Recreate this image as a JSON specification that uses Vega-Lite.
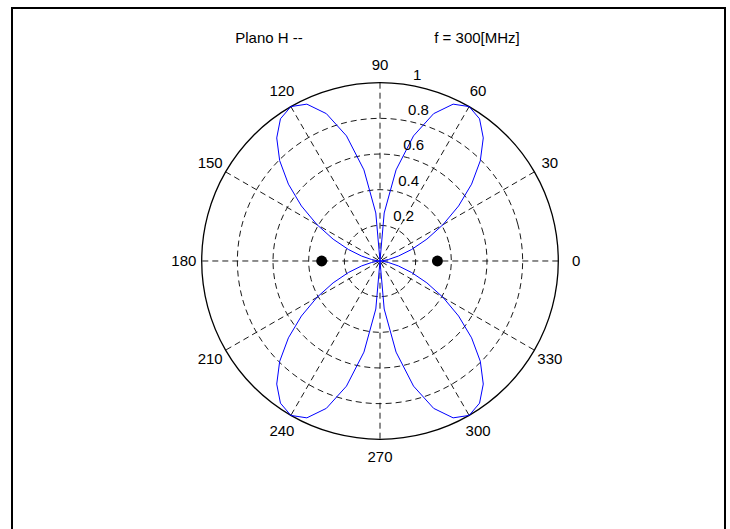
{
  "$schema": "https://vega.github.io/schema/vega-lite/v6.json",
  "width": 730,
  "height": 529,
  "autosize": {"type": "none"},
  "padding": 0,
  "background": "white",
  "config": {"view": {"stroke": null}, "text": {"font": "Liberation Sans", "fontSize": 15, "color": "#000"}},
  "datasets": {
    "frame": [{"x": -2.06394, "x2": 1.93494, "y": 1.41896, "y2": -1.7}],
    "rings": [
      {"r": 0.2, "k": 0, "x": 0.2, "y": 0}, {"r": 0.2, "k": 1, "x": 0.19319, "y": 0.05176}, {"r": 0.2, "k": 2, "x": 0.17321, "y": 0.1}, {"r": 0.2, "k": 3, "x": 0.14142, "y": 0.14142}, {"r": 0.2, "k": 4, "x": 0.1, "y": 0.17321}, {"r": 0.2, "k": 5, "x": 0.05176, "y": 0.19319}, {"r": 0.2, "k": 6, "x": 0, "y": 0.2}, {"r": 0.2, "k": 7, "x": -0.05176, "y": 0.19319}, {"r": 0.2, "k": 8, "x": -0.1, "y": 0.17321}, {"r": 0.2, "k": 9, "x": -0.14142, "y": 0.14142}, {"r": 0.2, "k": 10, "x": -0.17321, "y": 0.1}, {"r": 0.2, "k": 11, "x": -0.19319, "y": 0.05176}, {"r": 0.2, "k": 12, "x": -0.2, "y": 0}, {"r": 0.2, "k": 13, "x": -0.19319, "y": -0.05176}, {"r": 0.2, "k": 14, "x": -0.17321, "y": -0.1}, {"r": 0.2, "k": 15, "x": -0.14142, "y": -0.14142}, {"r": 0.2, "k": 16, "x": -0.1, "y": -0.17321}, {"r": 0.2, "k": 17, "x": -0.05176, "y": -0.19319}, {"r": 0.2, "k": 18, "x": 0, "y": -0.2}, {"r": 0.2, "k": 19, "x": 0.05176, "y": -0.19319}, {"r": 0.2, "k": 20, "x": 0.1, "y": -0.17321}, {"r": 0.2, "k": 21, "x": 0.14142, "y": -0.14142}, {"r": 0.2, "k": 22, "x": 0.17321, "y": -0.1}, {"r": 0.2, "k": 23, "x": 0.19319, "y": -0.05176},
      {"r": 0.4, "k": 0, "x": 0.4, "y": 0}, {"r": 0.4, "k": 1, "x": 0.38637, "y": 0.10353}, {"r": 0.4, "k": 2, "x": 0.34641, "y": 0.2}, {"r": 0.4, "k": 3, "x": 0.28284, "y": 0.28284}, {"r": 0.4, "k": 4, "x": 0.2, "y": 0.34641}, {"r": 0.4, "k": 5, "x": 0.10353, "y": 0.38637}, {"r": 0.4, "k": 6, "x": 0, "y": 0.4}, {"r": 0.4, "k": 7, "x": -0.10353, "y": 0.38637}, {"r": 0.4, "k": 8, "x": -0.2, "y": 0.34641}, {"r": 0.4, "k": 9, "x": -0.28284, "y": 0.28284}, {"r": 0.4, "k": 10, "x": -0.34641, "y": 0.2}, {"r": 0.4, "k": 11, "x": -0.38637, "y": 0.10353}, {"r": 0.4, "k": 12, "x": -0.4, "y": 0}, {"r": 0.4, "k": 13, "x": -0.38637, "y": -0.10353}, {"r": 0.4, "k": 14, "x": -0.34641, "y": -0.2}, {"r": 0.4, "k": 15, "x": -0.28284, "y": -0.28284}, {"r": 0.4, "k": 16, "x": -0.2, "y": -0.34641}, {"r": 0.4, "k": 17, "x": -0.10353, "y": -0.38637}, {"r": 0.4, "k": 18, "x": 0, "y": -0.4}, {"r": 0.4, "k": 19, "x": 0.10353, "y": -0.38637}, {"r": 0.4, "k": 20, "x": 0.2, "y": -0.34641}, {"r": 0.4, "k": 21, "x": 0.28284, "y": -0.28284}, {"r": 0.4, "k": 22, "x": 0.34641, "y": -0.2}, {"r": 0.4, "k": 23, "x": 0.38637, "y": -0.10353},
      {"r": 0.6, "k": 0, "x": 0.6, "y": 0}, {"r": 0.6, "k": 1, "x": 0.57956, "y": 0.15529}, {"r": 0.6, "k": 2, "x": 0.51962, "y": 0.3}, {"r": 0.6, "k": 3, "x": 0.42426, "y": 0.42426}, {"r": 0.6, "k": 4, "x": 0.3, "y": 0.51962}, {"r": 0.6, "k": 5, "x": 0.15529, "y": 0.57956}, {"r": 0.6, "k": 6, "x": 0, "y": 0.6}, {"r": 0.6, "k": 7, "x": -0.15529, "y": 0.57956}, {"r": 0.6, "k": 8, "x": -0.3, "y": 0.51962}, {"r": 0.6, "k": 9, "x": -0.42426, "y": 0.42426}, {"r": 0.6, "k": 10, "x": -0.51962, "y": 0.3}, {"r": 0.6, "k": 11, "x": -0.57956, "y": 0.15529}, {"r": 0.6, "k": 12, "x": -0.6, "y": 0}, {"r": 0.6, "k": 13, "x": -0.57956, "y": -0.15529}, {"r": 0.6, "k": 14, "x": -0.51962, "y": -0.3}, {"r": 0.6, "k": 15, "x": -0.42426, "y": -0.42426}, {"r": 0.6, "k": 16, "x": -0.3, "y": -0.51962}, {"r": 0.6, "k": 17, "x": -0.15529, "y": -0.57956}, {"r": 0.6, "k": 18, "x": 0, "y": -0.6}, {"r": 0.6, "k": 19, "x": 0.15529, "y": -0.57956}, {"r": 0.6, "k": 20, "x": 0.3, "y": -0.51962}, {"r": 0.6, "k": 21, "x": 0.42426, "y": -0.42426}, {"r": 0.6, "k": 22, "x": 0.51962, "y": -0.3}, {"r": 0.6, "k": 23, "x": 0.57956, "y": -0.15529},
      {"r": 0.8, "k": 0, "x": 0.8, "y": 0}, {"r": 0.8, "k": 1, "x": 0.77274, "y": 0.20706}, {"r": 0.8, "k": 2, "x": 0.69282, "y": 0.4}, {"r": 0.8, "k": 3, "x": 0.56569, "y": 0.56569}, {"r": 0.8, "k": 4, "x": 0.4, "y": 0.69282}, {"r": 0.8, "k": 5, "x": 0.20706, "y": 0.77274}, {"r": 0.8, "k": 6, "x": 0, "y": 0.8}, {"r": 0.8, "k": 7, "x": -0.20706, "y": 0.77274}, {"r": 0.8, "k": 8, "x": -0.4, "y": 0.69282}, {"r": 0.8, "k": 9, "x": -0.56569, "y": 0.56569}, {"r": 0.8, "k": 10, "x": -0.69282, "y": 0.4}, {"r": 0.8, "k": 11, "x": -0.77274, "y": 0.20706}, {"r": 0.8, "k": 12, "x": -0.8, "y": 0}, {"r": 0.8, "k": 13, "x": -0.77274, "y": -0.20706}, {"r": 0.8, "k": 14, "x": -0.69282, "y": -0.4}, {"r": 0.8, "k": 15, "x": -0.56569, "y": -0.56569}, {"r": 0.8, "k": 16, "x": -0.4, "y": -0.69282}, {"r": 0.8, "k": 17, "x": -0.20706, "y": -0.77274}, {"r": 0.8, "k": 18, "x": 0, "y": -0.8}, {"r": 0.8, "k": 19, "x": 0.20706, "y": -0.77274}, {"r": 0.8, "k": 20, "x": 0.4, "y": -0.69282}, {"r": 0.8, "k": 21, "x": 0.56569, "y": -0.56569}, {"r": 0.8, "k": 22, "x": 0.69282, "y": -0.4}, {"r": 0.8, "k": 23, "x": 0.77274, "y": -0.20706}
    ],
    "outer": [
      {"k": 0, "x": 1, "y": 0}, {"k": 1, "x": 0.96593, "y": 0.25882}, {"k": 2, "x": 0.86603, "y": 0.5}, {"k": 3, "x": 0.70711, "y": 0.70711}, {"k": 4, "x": 0.5, "y": 0.86603}, {"k": 5, "x": 0.25882, "y": 0.96593}, {"k": 6, "x": 0, "y": 1}, {"k": 7, "x": -0.25882, "y": 0.96593}, {"k": 8, "x": -0.5, "y": 0.86603}, {"k": 9, "x": -0.70711, "y": 0.70711}, {"k": 10, "x": -0.86603, "y": 0.5}, {"k": 11, "x": -0.96593, "y": 0.25882}, {"k": 12, "x": -1, "y": 0}, {"k": 13, "x": -0.96593, "y": -0.25882}, {"k": 14, "x": -0.86603, "y": -0.5}, {"k": 15, "x": -0.70711, "y": -0.70711}, {"k": 16, "x": -0.5, "y": -0.86603}, {"k": 17, "x": -0.25882, "y": -0.96593}, {"k": 18, "x": 0, "y": -1}, {"k": 19, "x": 0.25882, "y": -0.96593}, {"k": 20, "x": 0.5, "y": -0.86603}, {"k": 21, "x": 0.70711, "y": -0.70711}, {"k": 22, "x": 0.86603, "y": -0.5}, {"k": 23, "x": 0.96593, "y": -0.25882}
    ],
    "spokes": [
      {"x": 1, "y": 0, "x2": -1, "y2": 0},
      {"x": 0.86603, "y": 0.5, "x2": -0.86603, "y2": -0.5},
      {"x": 0.5, "y": 0.86603, "x2": -0.5, "y2": -0.86603},
      {"x": 0, "y": 1, "x2": 0, "y2": -1},
      {"x": -0.5, "y": 0.86603, "x2": 0.5, "y2": -0.86603},
      {"x": -0.86603, "y": 0.5, "x2": 0.86603, "y2": -0.5}
    ],
    "pattern": [
      {"a": 0, "x": 0, "y": 0}, {"a": 5, "x": 0.01191, "y": 0.00104}, {"a": 10, "x": 0.04698, "y": 0.00828}, {"a": 15, "x": 0.1032, "y": 0.02765}, {"a": 20, "x": 0.17698, "y": 0.06442}, {"a": 25, "x": 0.26293, "y": 0.12261}, {"a": 30, "x": 0.35383, "y": 0.20429}, {"a": 35, "x": 0.44077, "y": 0.30863}, {"a": 40, "x": 0.5137, "y": 0.43105}, {"a": 45, "x": 0.56264, "y": 0.56264}, {"a": 50, "x": 0.57919, "y": 0.69025}, {"a": 55, "x": 0.55832, "y": 0.79737}, {"a": 60, "x": 0.5, "y": 0.86603}, {"a": 65, "x": 0.41019, "y": 0.87966}, {"a": 70, "x": 0.30075, "y": 0.82632}, {"a": 75, "x": 0.18802, "y": 0.70168}, {"a": 80, "x": 0.0901, "y": 0.51099}, {"a": 85, "x": 0.02357, "y": 0.26937}, {"a": 90, "x": 0, "y": 0},
      {"a": 95, "x": -0.02357, "y": 0.26937}, {"a": 100, "x": -0.0901, "y": 0.51099}, {"a": 105, "x": -0.18802, "y": 0.70168}, {"a": 110, "x": -0.30075, "y": 0.82632}, {"a": 115, "x": -0.41019, "y": 0.87966}, {"a": 120, "x": -0.5, "y": 0.86603}, {"a": 125, "x": -0.55832, "y": 0.79737}, {"a": 130, "x": -0.57919, "y": 0.69025}, {"a": 135, "x": -0.56264, "y": 0.56264}, {"a": 140, "x": -0.5137, "y": 0.43105}, {"a": 145, "x": -0.44077, "y": 0.30863}, {"a": 150, "x": -0.35383, "y": 0.20429}, {"a": 155, "x": -0.26293, "y": 0.12261}, {"a": 160, "x": -0.17698, "y": 0.06442}, {"a": 165, "x": -0.1032, "y": 0.02765}, {"a": 170, "x": -0.04698, "y": 0.00828}, {"a": 175, "x": -0.01191, "y": 0.00104}, {"a": 180, "x": 0, "y": 0},
      {"a": 185, "x": -0.01191, "y": -0.00104}, {"a": 190, "x": -0.04698, "y": -0.00828}, {"a": 195, "x": -0.1032, "y": -0.02765}, {"a": 200, "x": -0.17698, "y": -0.06442}, {"a": 205, "x": -0.26293, "y": -0.12261}, {"a": 210, "x": -0.35383, "y": -0.20429}, {"a": 215, "x": -0.44077, "y": -0.30863}, {"a": 220, "x": -0.5137, "y": -0.43105}, {"a": 225, "x": -0.56264, "y": -0.56264}, {"a": 230, "x": -0.57919, "y": -0.69025}, {"a": 235, "x": -0.55832, "y": -0.79737}, {"a": 240, "x": -0.5, "y": -0.86603}, {"a": 245, "x": -0.41019, "y": -0.87966}, {"a": 250, "x": -0.30075, "y": -0.82632}, {"a": 255, "x": -0.18802, "y": -0.70168}, {"a": 260, "x": -0.0901, "y": -0.51099}, {"a": 265, "x": -0.02357, "y": -0.26937}, {"a": 270, "x": 0, "y": 0},
      {"a": 275, "x": 0.02357, "y": -0.26937}, {"a": 280, "x": 0.0901, "y": -0.51099}, {"a": 285, "x": 0.18802, "y": -0.70168}, {"a": 290, "x": 0.30075, "y": -0.82632}, {"a": 295, "x": 0.41019, "y": -0.87966}, {"a": 300, "x": 0.5, "y": -0.86603}, {"a": 305, "x": 0.55832, "y": -0.79737}, {"a": 310, "x": 0.57919, "y": -0.69025}, {"a": 315, "x": 0.56264, "y": -0.56264}, {"a": 320, "x": 0.5137, "y": -0.43105}, {"a": 325, "x": 0.44077, "y": -0.30863}, {"a": 330, "x": 0.35383, "y": -0.20429}, {"a": 335, "x": 0.26293, "y": -0.12261}, {"a": 340, "x": 0.17698, "y": -0.06442}, {"a": 345, "x": 0.1032, "y": -0.02765}, {"a": 350, "x": 0.04698, "y": -0.00828}, {"a": 355, "x": 0.01191, "y": -0.00104}, {"a": 360, "x": 0, "y": 0}
    ],
    "dots": [{"x": -0.327, "y": 0}, {"x": 0.322, "y": 0}],
    "angles": [
      {"t": "0", "x": 1.1, "y": 0}, {"t": "30", "x": 0.95263, "y": 0.55}, {"t": "60", "x": 0.55, "y": 0.95263}, {"t": "90", "x": 0, "y": 1.1}, {"t": "120", "x": -0.55, "y": 0.95263}, {"t": "150", "x": -0.95263, "y": 0.55}, {"t": "180", "x": -1.1, "y": 0}, {"t": "210", "x": -0.95263, "y": -0.55}, {"t": "240", "x": -0.55, "y": -0.95263}, {"t": "270", "x": 0, "y": -1.1}, {"t": "300", "x": 0.55, "y": -0.95263}, {"t": "330", "x": 0.95263, "y": -0.55}
    ],
    "rlabels": [
      {"t": "0.2", "x": 0.02923, "y": 0.20796}, {"t": "0.4", "x": 0.05706, "y": 0.40601}, {"t": "0.6", "x": 0.08489, "y": 0.60406}, {"t": "0.8", "x": 0.11273, "y": 0.80212}, {"t": "1", "x": 0.14056, "y": 1.00017}
    ],
    "titles": [
      {"t": "Plano H --", "x": -0.6225, "y": 1.2507}, {"t": "f = 300[MHz]", "x": 0.544, "y": 1.2507}
    ]
  },
  "encoding": {
    "x": {"field": "x", "type": "quantitative", "scale": {"domain": [-2.13124, 1.96298], "nice": false, "zero": false}, "axis": null},
    "y": {"field": "y", "type": "quantitative", "scale": {"domain": [-1.50308, 1.46382], "nice": false, "zero": false}, "axis": null}
  },
  "layer": [
    {"data": {"name": "frame"}, "mark": {"type": "rect", "filled": false, "stroke": "#000", "strokeWidth": 2}, "encoding": {"x2": {"field": "x2"}, "y2": {"field": "y2"}}},
    {"data": {"name": "rings"}, "mark": {"type": "line", "interpolate": "cardinal-closed", "stroke": "#000", "strokeWidth": 0.9, "strokeDash": [6, 4]}, "encoding": {"detail": {"field": "r", "type": "nominal"}, "order": {"field": "k", "type": "quantitative"}}},
    {"data": {"name": "spokes"}, "mark": {"type": "rule", "stroke": "#000", "strokeWidth": 0.9, "strokeDash": [6, 4]}, "encoding": {"x2": {"field": "x2"}, "y2": {"field": "y2"}}},
    {"data": {"name": "outer"}, "mark": {"type": "line", "interpolate": "cardinal-closed", "stroke": "#000", "strokeWidth": 1.3}, "encoding": {"order": {"field": "k", "type": "quantitative"}}},
    {"data": {"name": "pattern"}, "mark": {"type": "line", "stroke": "#0000ff", "strokeWidth": 1}, "encoding": {"order": {"field": "a", "type": "quantitative"}}},
    {"data": {"name": "dots"}, "mark": {"type": "point", "shape": "circle", "filled": true, "color": "#000", "opacity": 1, "size": 120}},
    {"data": {"name": "angles"}, "mark": {"type": "text", "align": "center", "baseline": "middle"}, "encoding": {"text": {"field": "t"}}},
    {"data": {"name": "rlabels"}, "mark": {"type": "text", "align": "left", "baseline": "bottom", "dx": 8}, "encoding": {"text": {"field": "t"}}},
    {"data": {"name": "titles"}, "mark": {"type": "text", "align": "center", "baseline": "middle"}, "encoding": {"text": {"field": "t"}}}
  ]
}
